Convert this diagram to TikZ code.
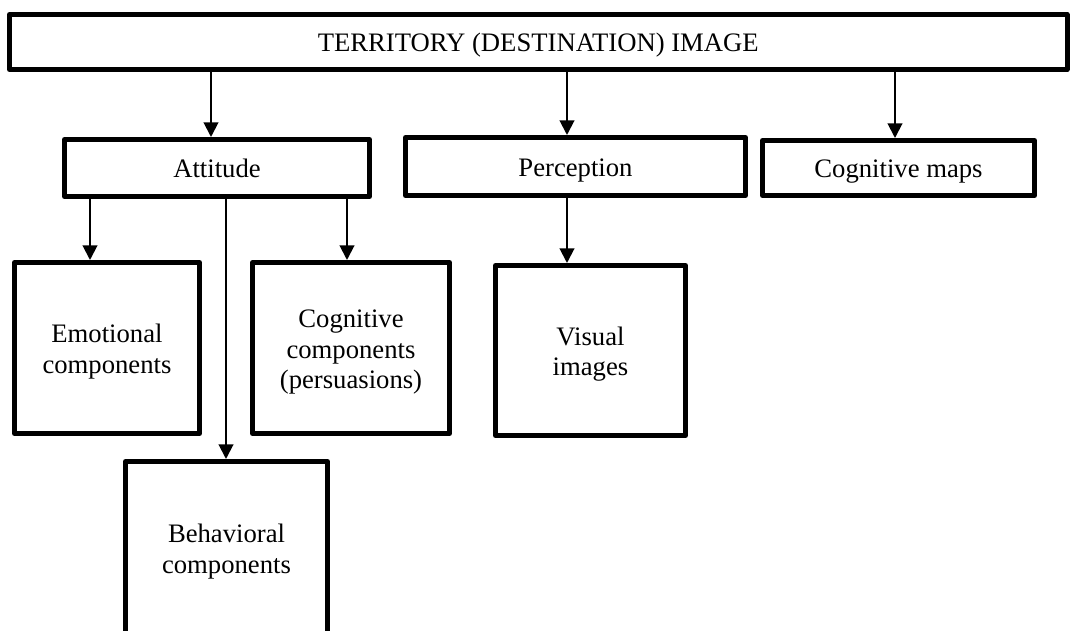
\documentclass[tikz,border=0pt]{standalone}
\usepackage{fontspec}
\setmainfont{Liberation Serif}
\usetikzlibrary{arrows.meta}
\newcommand\bxstrut{\rule[-4.5pt]{0pt}{24pt}}
\begin{document}
\begin{tikzpicture}[x=0.75pt,y=-0.75pt,
  box/.style={draw=black,line width=3.75pt,line join=round,fill=white,inner sep=0pt,
    align=center,font=\fontsize{20}{23}\selectfont},
  arr/.style={line width=1.5pt,-{Triangle[width=11pt,length=11pt]}}]
\clip (0,0) rectangle (1072,631);
\fill[white] (0,0) rectangle (1072,631);
\node[box,minimum width={1057.5*0.75pt},minimum height={55*0.75pt}] (top) at (538.25,42) {\bxstrut TERRITORY (DESTINATION) IMAGE};
\node[box,minimum width={305*0.75pt},minimum height={57*0.75pt}] (att) at (217,168) {\bxstrut Attitude};
\node[box,minimum width={340*0.75pt},minimum height={58*0.75pt}] (per) at (575.5,166.5) {\bxstrut Perception};
\node[box,minimum width={272*0.75pt},minimum height={55*0.75pt}] (cmap) at (898.5,168) {\bxstrut Cognitive maps};
\node[box,minimum width={185*0.75pt},minimum height={171*0.75pt}] (emo) at (107,348) {\bxstrut Emotional\\components};
\node[box,minimum width={197*0.75pt},minimum height={171*0.75pt}] (cog) at (351,348) {\bxstrut Cognitive\\components\\(persuasions)};
\node[box,minimum width={190*0.75pt},minimum height={170*0.75pt}] (vis) at (590.5,350.5) {\bxstrut Visual\\images};
\node[box,minimum width={202*0.75pt},minimum height={173*0.75pt}] (beh) at (226.5,548) {\bxstrut Behavioral\\components};
\draw[arr] (211,0 |- top.south) -- (211,0 |- att.north);
\draw[arr] (567,0 |- top.south) -- (567,0 |- per.north);
\draw[arr] (895,0 |- top.south) -- (895,0 |- cmap.north);
\draw[arr] (90,0 |- att.south) -- (90,0 |- emo.north);
\draw[arr] (347,0 |- att.south) -- (347,0 |- cog.north);
\draw[arr] (226,0 |- att.south) -- (226,0 |- beh.north);
\draw[arr] (567,0 |- per.south) -- (567,0 |- vis.north);
\end{tikzpicture}
\end{document}
